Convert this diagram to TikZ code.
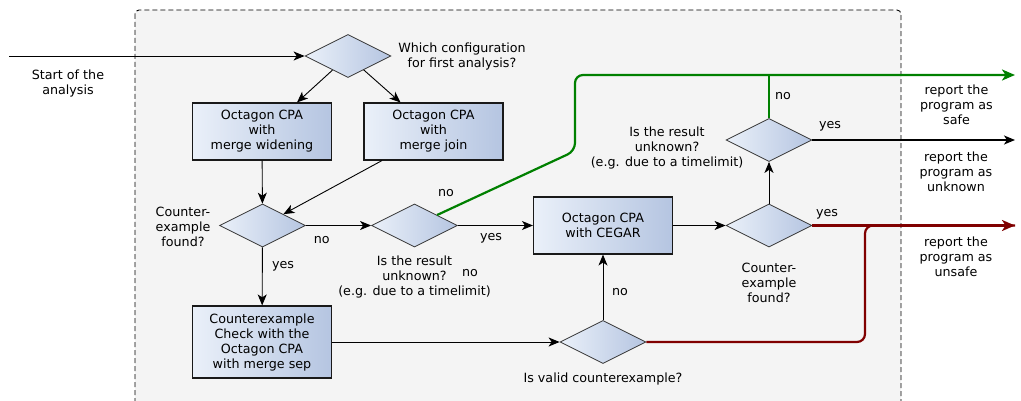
\documentclass[tikz,border=0pt]{standalone}
\usepackage{fontspec}
\setmainfont{DejaVu Sans}
\usetikzlibrary{shapes.geometric,arrows.meta}
\definecolor{bgfill}{HTML}{F4F4F4}
\definecolor{boxlight}{RGB}{234,240,249}
\definecolor{boxdark}{RGB}{181,197,225}
\definecolor{safegreen}{RGB}{0,128,0}
\definecolor{unsafered}{RGB}{128,0,0}

\begin{document}
\begin{tikzpicture}[x=1pt,y=-1pt,font=\fontsize{12.7}{15}\selectfont,
  proc/.style={draw=black!90,line width=1.1pt,left color=boxlight,right color=boxdark,
    minimum width=139pt,minimum height=57pt,align=center,inner sep=2pt},
  decide/.style={diamond,draw=black!80,line width=0.8pt,left color=boxlight,right color=boxdark,
    minimum width=86pt,minimum height=43pt,inner sep=0pt},
  txt/.style={align=center,inner sep=0pt},
  flow/.style={line width=0.9pt,-{Stealth[length=11pt,width=9pt,inset=3pt]}},
  outflow/.style={line width=2.2pt,rounded corners=8pt,-{Stealth[length=13pt,width=11pt,inset=3.5pt]}}]
  \useasboundingbox (0,0) rectangle (1021,401);
  % dashed area of the analysis
  \draw [line width=0.9pt,dash pattern=on 5pt off 3pt,fill=bgfill,rounded corners=4pt] (135,10) rectangle (901,440);

  % decisions and steps
  \node [decide] (d1) at (348,56) {};
  \node [proc] (a) at (262,131.5) {Octagon CPA\\with\\merge widening};
  \node [proc] (b) at (433.5,131.5) {Octagon CPA\\with\\merge join};
  \node [decide] (d2) at (262.5,225.5) {};
  \node [decide] (d3) at (414.5,225.5) {};
  \node [proc] (c) at (603,225.5) {Octagon CPA\\with CEGAR};
  \node [decide] (d5) at (769,225.5) {};
  \node [decide] (d4) at (769,140) {};
  \node [proc,minimum height=72pt] (cex) at (262,342) {Counterexample\\Check with the\\Octagon CPA\\with merge sep};
  \node [decide] (d6) at (603,342) {};

  \coordinate (start) at (9,56);
  \coordinate (safe) at (1015,75);
  \coordinate (unknown) at (1015,140);
  \coordinate (unsafe) at (1015,225.5);

  % texts
  \node [txt] (startlbl) at (68,83.5) {Start of the\\analysis};
  \node [txt] (d1lbl) at (462,56) {Which configuration\\for first analysis?};
  \node [txt] (d2lbl) at (183,227) {Counter-\\example\\found?};
  \node [txt] (d3lbl) at (414.5,276.5) {Is the result\\unknown?\\(e.g. due to a timelimit)};
  \node [txt] (d4lbl) at (667,147.8) {Is the result\\unknown?\\(e.g. due to a timelimit)};
  \node [txt] (d5lbl) at (769,283) {Counter-\\example\\found?};
  \node [txt] (d6lbl) at (603,379) {Is valid counterexample?};
  \node [txt] (safelbl) at (956.5,104.5) {report the\\program as\\safe};
  \node [txt] (unknownlbl) at (956,172) {report the\\program as\\unknown};
  \node [txt] (unsafelbl) at (956,256.5) {report the\\program as\\unsafe};

  \node [txt] (d2no) at (321.7,240.5) {no};
  \node [txt] (d2yes) at (283,266) {yes};
  \node [txt] (d3yes) at (491,238.5) {yes};
  \node [txt] (d3no) at (446,193.5) {no};
  \node [txt] (d3nob) at (470,273.5) {no};
  \node [txt] (d4no) at (783,96.5) {no};
  \node [txt] (d4yes) at (830,126) {yes};
  \node [txt] (d5yes) at (827,214) {yes};
  \node [txt] (d6no) at (620,292.5) {no};

  % connectors
  \draw [flow] (start) -- (d1);
  \draw [flow] (d1) -- ([xshift=35pt]a.north);
  \draw [flow] (d1) -- ([xshift=-33pt]b.north);
  \draw [flow] (a) -- (d2);
  \draw [flow] ([xshift=-51.5pt]b.south) -- (d2);
  \draw [flow] (d2) -- (d3);
  \draw [flow] (d2) -- (cex);
  \draw [flow] (d3) -- (c);
  \draw [flow] (c) -- (d5);
  \draw [flow] (d5) -- (d4);
  \draw [flow] (cex) -- (d6);
  \draw [flow] (d6) -- (c);
  \draw [flow,line width=1.8pt] (d4) -- (unknown);
  \draw [outflow,safegreen] (d3) -- (575,151) -- (575,75) -- (safe);
  \draw [line width=2.2pt,safegreen] (d4) -- (d4 |- safe);
  \draw [outflow,unsafered] (d5) -- (unsafe);
  \draw [line width=2.2pt,rounded corners=8pt,unsafered] (d6) -| (865,225.5) -- (unsafe);
\end{tikzpicture}
\end{document}
